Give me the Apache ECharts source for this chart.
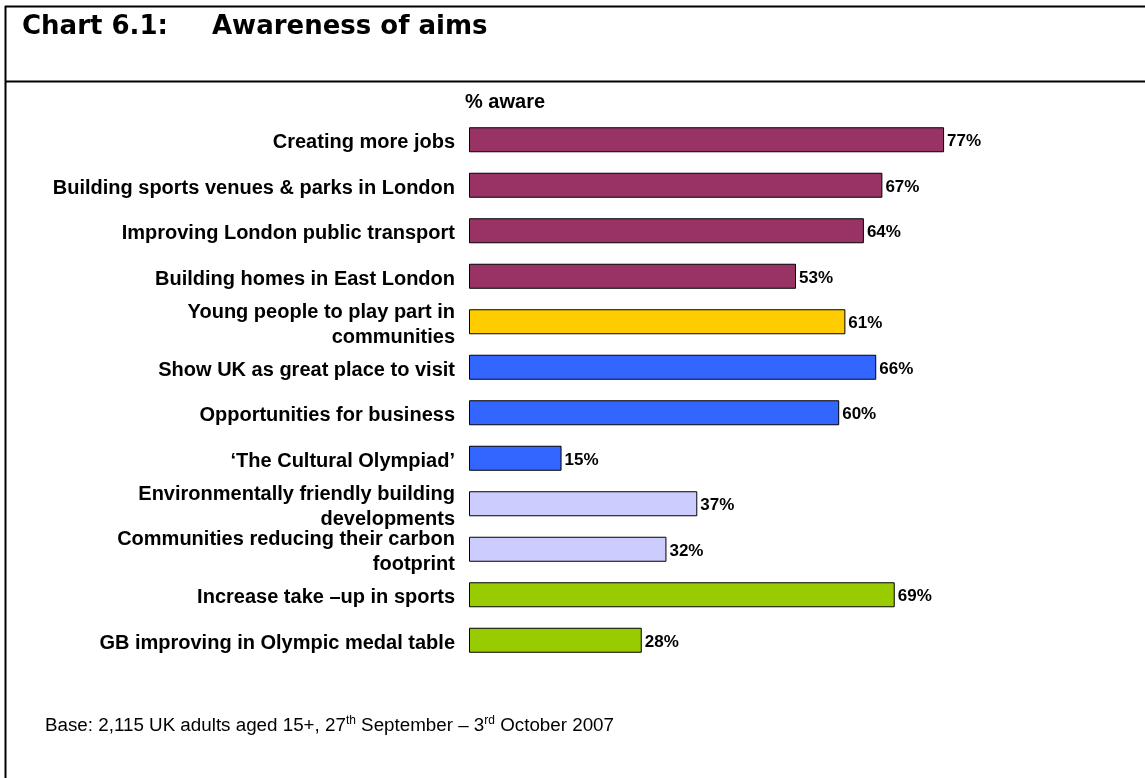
<!DOCTYPE html>
<html>
<head>
<meta charset="utf-8">
<script src="https://cdn.jsdelivr.net/npm/echarts@6/dist/echarts.min.js"></script>
<style>
  html, body { margin: 0; padding: 0; background: #fff; }
  #chart { width: 1145px; height: 778px; }
</style>
</head>
<body>
<div id="chart"></div>
<script>
// Aims of the 2012 Games, in display order (top to bottom)
const categories = [
  'Creating more jobs',
  'Building sports venues & parks in London',
  'Improving London public transport',
  'Building homes in East London',
  'Young people to play part in\ncommunities',
  'Show UK as great place to visit',
  'Opportunities for business',
  '\u2018The Cultural Olympiad\u2019',
  'Environmentally friendly building\ndevelopments',
  'Communities reducing their carbon\nfootprint',
  'Increase take \u2013up in sports',
  'GB improving in Olympic medal table'
];
// % aware of each aim
const values = [77, 67, 64, 53, 61, 66, 60, 15, 37, 32, 69, 28];
// Theme group of each aim
const groups = ['econ', 'econ', 'econ', 'econ', 'youth', 'promo', 'promo', 'promo', 'env', 'env', 'sport', 'sport'];
const groupColors = {
  econ: '#993366',
  youth: '#FFCC00',
  promo: '#3366FF',
  env: '#CCCCFF',
  sport: '#99CC00'
};

const chart = echarts.init(document.getElementById('chart'), null, { renderer: 'canvas' });

const barData = values.map((v, i) => ({
  value: v,
  itemStyle: { color: groupColors[groups[i]] }
}));

chart.setOption({
  animation: false,
  backgroundColor: '#ffffff',
  grid: { left: 469, top: 117, width: 617, height: 546, containLabel: false },
  xAxis: {
    type: 'value', min: 0, max: 100,
    show: false
  },
  yAxis: {
    type: 'category',
    inverse: true,
    data: categories,
    axisLine: { show: false },
    axisTick: { show: false },
    splitLine: { show: false },
    axisLabel: {
      margin: 14,
      color: '#000',
      fontFamily: 'Liberation Sans, Arial, sans-serif',
      fontWeight: 'bold',
      fontSize: 20,
      lineHeight: 25,
      formatter: v => '{t|' + v.split('\n').join('}\n{t|') + '}',
      rich: {
        t: {
          fontFamily: 'Liberation Sans, Arial, sans-serif',
          fontWeight: 'bold',
          fontSize: 20,
          lineHeight: 25,
          padding: [6, 0, 0, 0],
          align: 'right'
        }
      },
      align: 'right'
    }
  },
  series: [{
    type: 'bar',
    data: barData,
    barWidth: 25,
    itemStyle: { borderColor: '#000', borderWidth: 1 },
    label: {
      show: true,
      position: 'right',
      distance: 3,
      formatter: p => '{v|' + p.value + '%}',
      rich: {
        v: {
          color: '#000',
          fontFamily: '"Liberation Sans", Arial, sans-serif',
          fontWeight: 'bold',
          fontSize: 17,
          padding: [4, 0, 0, 0]
        }
      }
    }
  }],
  graphic: [
    // frame: top edge, left edge and the rule under the title
    { type: 'line', shape: { x1: 5, y1: 6.5, x2: 1145, y2: 6.5 }, style: { stroke: '#000', lineWidth: 2 } },
    { type: 'line', shape: { x1: 5.5, y1: 6, x2: 5.5, y2: 778 }, style: { stroke: '#000', lineWidth: 2 } },
    { type: 'line', shape: { x1: 5, y1: 81.5, x2: 1145, y2: 81.5 }, style: { stroke: '#000', lineWidth: 2 } },
    {
      type: 'text', left: 22, top: 14,
      style: { text: 'Chart 6.1:', fill: '#000', font: 'bold 26px "DejaVu Sans", Verdana, sans-serif' }
    },
    {
      type: 'text', left: 212, top: 14,
      style: { text: 'Awareness of aims', fill: '#000', font: 'bold 26px "DejaVu Sans", Verdana, sans-serif' }
    },
    {
      type: 'text', left: 465, top: 92,
      style: { text: '% aware', fill: '#000', font: 'bold 20px "Liberation Sans", Arial, sans-serif' }
    },
    {
      type: 'text', left: 45, top: 715,
      style: {
        text: 'Base: 2,115 UK adults aged 15+, 27{sup|th} September \u2013 3{sup|rd} October 2007',
        fill: '#000',
        font: '18.8px "Liberation Sans", Arial, sans-serif',
        rich: {
          sup: { fontSize: 12, verticalAlign: 'top', padding: [0, 0, 9, 0], fontFamily: 'Liberation Sans, Arial, sans-serif' }
        }
      }
    }
  ]
});
</script>
</body>
</html>
